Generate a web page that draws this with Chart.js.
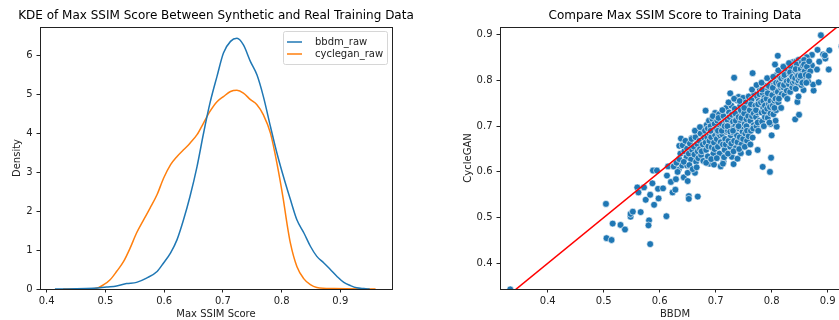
<!DOCTYPE html>
<html>
<head>
<meta charset="utf-8">
<script src="https://cdn.jsdelivr.net/npm/chart.js@4.4.1/dist/chart.umd.min.js"></script>
<style>
  html, body { margin: 0; padding: 0; background: #fff; overflow: hidden; width: 839px; height: 320px; }
  .panel { position: absolute; top: 0; height: 320px; }
</style>
</head>
<body>
<div class="panel" style="left:0;width:420px"><canvas id="kde" width="420" height="320"></canvas></div>
<div class="panel" style="left:420px;width:440px"><canvas id="cmp" width="440" height="320"></canvas></div>
<script>
// KDE curves: [Max SSIM Score, Density]
const bbdmKde = [
  [0.414, 0], [0.434, 0.0], [0.468, 0.01], [0.491, 0.03], [0.502, 0.05], [0.519, 0.08],
  [0.536, 0.14], [0.553, 0.17], [0.570, 0.28], [0.588, 0.45], [0.599, 0.67], [0.611, 0.93],
  [0.622, 1.27], [0.633, 1.78], [0.644, 2.38], [0.656, 3.15], [0.667, 4.0], [0.678, 4.78],
  [0.690, 5.47], [0.701, 6.07], [0.713, 6.37], [0.724, 6.45], [0.735, 6.28], [0.747, 5.85],
  [0.758, 5.51], [0.769, 4.95], [0.781, 4.18], [0.792, 3.5], [0.803, 2.9], [0.815, 2.3],
  [0.826, 1.78], [0.838, 1.44], [0.849, 1.1], [0.860, 0.84], [0.872, 0.67], [0.883, 0.50],
  [0.894, 0.33], [0.906, 0.17], [0.917, 0.09], [0.928, 0.03], [0.940, 0.01], [0.950, 0]
];
const cycleganKde = [
  [0.428, 0], [0.463, 0.005], [0.485, 0.02], [0.497, 0.11], [0.508, 0.24], [0.519, 0.45],
  [0.531, 0.71], [0.542, 1.05], [0.553, 1.44], [0.565, 1.78], [0.576, 2.08], [0.588, 2.43],
  [0.599, 2.85], [0.611, 3.2], [0.622, 3.41], [0.633, 3.58], [0.644, 3.75], [0.656, 3.97],
  [0.667, 4.27], [0.678, 4.57], [0.690, 4.82], [0.701, 4.95], [0.713, 5.08], [0.724, 5.11],
  [0.735, 5.04], [0.747, 4.87], [0.758, 4.74], [0.769, 4.48], [0.781, 4.01], [0.792, 3.24],
  [0.803, 2.3], [0.809, 1.7], [0.815, 1.18], [0.826, 0.58], [0.838, 0.26], [0.849, 0.11],
  [0.860, 0.04], [0.889, 0.01], [0.960, 0]
];

// max SSIM per sample: [BBDM, CycleGAN]
const maxSsimPairs = [
  [0.333, 0.343], [0.504, 0.530], [0.505, 0.455], [0.514, 0.451], [0.516, 0.487], [0.530, 0.484],
  [0.538, 0.474], [0.548, 0.502], [0.548, 0.508], [0.552, 0.513], [0.560, 0.566], [0.562, 0.555],
  [0.566, 0.512], [0.572, 0.566], [0.575, 0.539], [0.581, 0.494], [0.580, 0.483], [0.583, 0.442],
  [0.583, 0.550], [0.587, 0.575], [0.588, 0.603], [0.590, 0.528], [0.595, 0.603], [0.597, 0.563],
  [0.598, 0.542], [0.606, 0.564], [0.612, 0.503], [0.613, 0.592], [0.615, 0.612], [0.620, 0.578],
  [0.623, 0.555], [0.628, 0.561], [0.629, 0.584], [0.626, 0.612], [0.634, 0.605], [0.640, 0.614],
  [0.635, 0.657], [0.638, 0.673], [0.643, 0.588], [0.649, 0.614], [0.650, 0.598], [0.650, 0.580],
  [0.652, 0.547], [0.652, 0.541], [0.668, 0.546], [0.655, 0.640], [0.657, 0.674], [0.663, 0.598],
  [0.666, 0.629], [0.682, 0.734], [0.689, 0.618], [0.697, 0.616], [0.699, 0.729], [0.711, 0.728],
  [0.714, 0.623], [0.719, 0.740], [0.726, 0.772], [0.729, 0.633], [0.733, 0.806], [0.732, 0.617],
  [0.739, 0.629], [0.741, 0.764], [0.745, 0.641], [0.759, 0.642], [0.766, 0.816], [0.775, 0.648],
  [0.784, 0.611], [0.797, 0.600], [0.799, 0.631], [0.798, 0.705], [0.800, 0.680], [0.809, 0.699],
  [0.807, 0.712], [0.811, 0.854], [0.806, 0.835], [0.842, 0.715], [0.849, 0.725], [0.846, 0.753],
  [0.848, 0.765], [0.857, 0.779], [0.875, 0.778], [0.874, 0.791], [0.884, 0.796], [0.888, 0.899],
  [0.872, 0.856], [0.882, 0.867], [0.885, 0.841], [0.881, 0.824], [0.892, 0.857], [0.896, 0.848],
  [0.902, 0.824], [0.903, 0.866], [0.895, 0.855], [0.863, 0.851], [0.872, 0.833], [0.925, 0.875],
  [0.625, 0.612], [0.630, 0.620], [0.635, 0.628], [0.637, 0.640], [0.632, 0.600],
  [0.641, 0.658], [0.644, 0.645], [0.646, 0.668], [0.648, 0.632], [0.643, 0.622], [0.649, 0.651],
  [0.652, 0.640], [0.654, 0.662], [0.656, 0.627], [0.658, 0.648], [0.653, 0.615], [0.657, 0.672], [0.659, 0.606],
  [0.661, 0.655], [0.662, 0.638], [0.664, 0.676], [0.665, 0.622], [0.667, 0.661], [0.668, 0.645], [0.663, 0.690],
  [0.669, 0.630], [0.666, 0.610],
  [0.671, 0.668], [0.672, 0.650], [0.673, 0.684], [0.674, 0.637], [0.676, 0.696], [0.677, 0.660], [0.678, 0.624],
  [0.679, 0.675], [0.675, 0.645], [0.672, 0.698],
  [0.681, 0.690], [0.682, 0.664], [0.683, 0.648], [0.684, 0.703], [0.685, 0.676], [0.686, 0.634], [0.687, 0.656],
  [0.688, 0.712], [0.689, 0.684], [0.683, 0.620], [0.686, 0.695], [0.689, 0.668],
  [0.691, 0.700], [0.692, 0.676], [0.693, 0.654], [0.694, 0.716], [0.695, 0.688], [0.696, 0.640], [0.697, 0.664],
  [0.698, 0.705], [0.699, 0.680], [0.692, 0.628], [0.695, 0.722], [0.698, 0.650], [0.691, 0.690],
  [0.701, 0.694], [0.702, 0.672], [0.703, 0.712], [0.704, 0.655], [0.705, 0.684], [0.706, 0.726], [0.707, 0.640],
  [0.708, 0.700], [0.709, 0.665], [0.702, 0.630], [0.705, 0.718], [0.708, 0.680], [0.704, 0.690], [0.709, 0.612],
  [0.711, 0.705], [0.712, 0.682], [0.713, 0.660], [0.714, 0.722], [0.715, 0.695], [0.716, 0.648], [0.717, 0.672],
  [0.718, 0.712], [0.719, 0.688], [0.712, 0.735], [0.715, 0.632], [0.718, 0.660], [0.711, 0.690], [0.716, 0.700],
  [0.713, 0.618],
  [0.721, 0.714], [0.722, 0.690], [0.723, 0.668], [0.724, 0.730], [0.725, 0.702], [0.726, 0.655], [0.727, 0.680],
  [0.728, 0.745], [0.729, 0.695], [0.722, 0.640], [0.725, 0.720], [0.728, 0.662], [0.721, 0.700], [0.726, 0.688],
  [0.729, 0.725], [0.723, 0.752],
  [0.731, 0.710], [0.732, 0.686], [0.733, 0.668], [0.734, 0.738], [0.735, 0.700], [0.736, 0.652], [0.737, 0.722],
  [0.738, 0.680], [0.739, 0.756], [0.732, 0.645], [0.735, 0.728], [0.738, 0.695], [0.731, 0.690], [0.736, 0.712],
  [0.733, 0.760], [0.739, 0.665],
  [0.741, 0.720], [0.742, 0.695], [0.743, 0.676], [0.744, 0.745], [0.745, 0.708], [0.746, 0.660], [0.747, 0.730],
  [0.748, 0.688], [0.749, 0.762], [0.742, 0.650], [0.745, 0.735], [0.748, 0.700], [0.741, 0.700], [0.746, 0.718],
  [0.743, 0.755], [0.749, 0.672],
  [0.751, 0.728], [0.752, 0.705], [0.753, 0.684], [0.754, 0.752], [0.755, 0.715], [0.756, 0.668], [0.757, 0.740],
  [0.758, 0.696], [0.759, 0.765], [0.752, 0.655], [0.755, 0.700], [0.758, 0.722], [0.751, 0.740], [0.756, 0.690],
  [0.759, 0.678],
  [0.761, 0.735], [0.762, 0.712], [0.763, 0.690], [0.764, 0.758], [0.765, 0.722], [0.766, 0.675], [0.767, 0.745],
  [0.768, 0.702], [0.769, 0.770], [0.762, 0.660], [0.765, 0.780], [0.768, 0.728], [0.763, 0.748], [0.767, 0.695],
  [0.771, 0.745], [0.772, 0.720], [0.773, 0.700], [0.774, 0.765], [0.775, 0.730], [0.776, 0.690], [0.777, 0.755],
  [0.778, 0.712], [0.779, 0.780], [0.772, 0.735], [0.775, 0.708], [0.778, 0.770], [0.773, 0.790], [0.776, 0.748],
  [0.781, 0.752], [0.782, 0.730], [0.783, 0.710], [0.784, 0.772], [0.785, 0.740], [0.786, 0.700], [0.787, 0.762],
  [0.788, 0.720], [0.789, 0.788], [0.782, 0.795], [0.785, 0.755], [0.788, 0.745], [0.783, 0.780], [0.787, 0.732],
  [0.791, 0.760], [0.792, 0.738], [0.793, 0.718], [0.794, 0.780], [0.795, 0.748], [0.796, 0.708], [0.797, 0.770],
  [0.798, 0.728], [0.799, 0.795], [0.792, 0.805], [0.795, 0.788], [0.798, 0.755], [0.793, 0.772], [0.797, 0.742],
  [0.801, 0.768], [0.802, 0.745], [0.803, 0.726], [0.804, 0.790], [0.805, 0.756], [0.806, 0.800], [0.807, 0.778],
  [0.808, 0.735], [0.809, 0.812], [0.802, 0.784], [0.805, 0.740], [0.808, 0.795], [0.803, 0.808], [0.807, 0.760],
  [0.811, 0.775], [0.812, 0.752], [0.813, 0.795], [0.814, 0.810], [0.815, 0.765], [0.816, 0.785], [0.817, 0.740],
  [0.818, 0.820], [0.819, 0.800], [0.812, 0.822], [0.815, 0.790], [0.818, 0.770], [0.813, 0.760], [0.817, 0.805],
  [0.821, 0.785], [0.822, 0.808], [0.823, 0.768], [0.824, 0.828], [0.825, 0.795], [0.826, 0.815], [0.827, 0.778],
  [0.828, 0.832], [0.829, 0.800], [0.822, 0.790], [0.825, 0.820], [0.828, 0.760], [0.823, 0.812], [0.827, 0.798],
  [0.821, 0.830],
  [0.831, 0.792], [0.832, 0.815], [0.833, 0.775], [0.834, 0.835], [0.835, 0.805], [0.836, 0.822], [0.837, 0.785],
  [0.838, 0.840], [0.839, 0.810], [0.832, 0.800], [0.835, 0.828], [0.838, 0.795], [0.833, 0.818], [0.837, 0.808],
  [0.831, 0.838],
  [0.841, 0.798], [0.842, 0.820], [0.843, 0.782], [0.844, 0.842], [0.845, 0.812], [0.846, 0.830], [0.847, 0.795],
  [0.848, 0.845], [0.849, 0.815], [0.842, 0.805], [0.845, 0.835], [0.848, 0.800], [0.843, 0.825], [0.847, 0.810],
  [0.851, 0.805], [0.852, 0.825], [0.853, 0.790], [0.854, 0.840], [0.855, 0.815], [0.856, 0.832], [0.857, 0.800],
  [0.858, 0.845], [0.859, 0.820], [0.852, 0.810], [0.855, 0.795], [0.858, 0.835],
  [0.861, 0.812], [0.863, 0.830], [0.865, 0.798], [0.867, 0.842], [0.869, 0.820], [0.862, 0.795], [0.866, 0.810]
];

// y = x reference line
const identityLine = [[0.3, 0.3], [1.0, 1.0]];

const kdeTicksX = [0.4, 0.5, 0.6, 0.7, 0.8, 0.9];
const densityTicks = [0, 1, 2, 3, 4, 5, 6];
const bbdmTicks = [0.4, 0.5, 0.6, 0.7, 0.8, 0.9];
const cycleganTicks = [0.4, 0.5, 0.6, 0.7, 0.8, 0.9];

const FONT = 'DejaVu Sans';
const INK = '#222';

// title centred over the plot area, like matplotlib
const areaTitle = {
  id: 'areaTitle',
  afterDraw(chart, args, opts) {
    const { ctx, chartArea } = chart;
    ctx.save();
    ctx.font = '12px "' + FONT + '"';
    ctx.fillStyle = '#000';
    ctx.textAlign = 'center';
    ctx.textBaseline = 'middle';
    ctx.fillText(opts.text, (chartArea.left + chartArea.right) / 2, 15.5);
    ctx.restore();
  }
};

// four spines
const frame = {
  id: 'frame',
  afterDraw(chart) {
    const { ctx, chartArea: a } = chart;
    ctx.save();
    ctx.strokeStyle = INK;
    ctx.lineWidth = 1;
    ctx.strokeRect(Math.round(a.left) + 0.5, Math.round(a.top) + 0.5,
      Math.round(a.right - a.left), Math.round(a.bottom - a.top));
    ctx.restore();
  }
};

// matplotlib style framed legend, upper right
const boxLegend = {
  id: 'boxLegend',
  afterDraw(chart) {
    const { ctx, chartArea: a } = chart;
    const w = 104, h = 33;
    const x = a.right - 5 - w, y = a.top + 4;
    ctx.save();
    ctx.fillStyle = 'rgba(255,255,255,0.8)';
    ctx.strokeStyle = '#d6d6d6';
    ctx.lineWidth = 1;
    ctx.beginPath();
    ctx.roundRect(x + 0.5, y + 0.5, w, h, 2);
    ctx.fill();
    ctx.stroke();
    ctx.font = '10px "' + FONT + '"';
    ctx.textBaseline = 'middle';
    chart.data.datasets.forEach((ds, i) => {
      const ly = y + 11 + i * 12;
      ctx.strokeStyle = ds.borderColor;
      ctx.lineWidth = 1.5;
      ctx.beginPath();
      ctx.moveTo(x + 4, ly);
      ctx.lineTo(x + 19, ly);
      ctx.stroke();
      ctx.fillStyle = INK;
      ctx.fillText(ds.label, x + 32, ly);
    });
    ctx.restore();
  }
};

function axis(min, max, ticks, title, horizontal, titlePad, fmt) {
  return {
    type: 'linear',
    min: min,
    max: max,
    afterBuildTicks: s => { s.ticks = ticks.map(v => ({ value: v })); },
    afterFit: s => { if (horizontal) s.height = 31; else s.width = 40; },
    grid: { display: true, drawOnChartArea: false, drawTicks: true, tickLength: 3.5, tickColor: INK, tickWidth: 1 },
    border: { display: false },
    ticks: { color: INK, font: { family: FONT, size: 10 }, padding: horizontal ? 2.5 : 4, callback: fmt, maxRotation: 0 },
    title: { display: true, text: title, color: INK, font: { family: FONT, size: 10 }, padding: titlePad }
  };
}

Chart.defaults.font.family = FONT;
Chart.defaults.animation = false;

new Chart(document.getElementById('kde'), {
  type: 'line',
  data: {
    datasets: [
      { label: 'bbdm_raw', data: bbdmKde, borderColor: '#1f77b4', borderWidth: 1.5, pointRadius: 0, cubicInterpolationMode: 'monotone', fill: false },
      { label: 'cyclegan_raw', data: cycleganKde, borderColor: '#ff7f0e', borderWidth: 1.5, pointRadius: 0, cubicInterpolationMode: 'monotone', fill: false }
    ]
  },
  options: {
    responsive: false,
    layout: { padding: { left: 0, right: 28, top: 27, bottom: 0 } },
    plugins: { legend: { display: false }, tooltip: { enabled: false }, areaTitle: { text: 'KDE of Max SSIM Score Between Synthetic and Real Training Data' } },
    scales: {
      x: axis(0.3886, 0.988, kdeTicksX, 'Max SSIM Score', true, { top: 0, bottom: 0 }, v => v.toFixed(1)),
      y: axis(0, 6.74, densityTicks, 'Density', false, { top: 11, bottom: 0 }, v => String(v))
    }
  },
  plugins: [areaTitle, frame, boxLegend]
});

new Chart(document.getElementById('cmp'), {
  type: 'scatter',
  data: {
    datasets: [
      { type: 'line', data: identityLine, borderColor: '#ff0000', borderWidth: 1.5, pointRadius: 0, showLine: true, clip: 0 },
      { data: maxSsimPairs, backgroundColor: '#1f77b4', borderColor: '#ffffff', borderWidth: 0.6, pointRadius: 3.4, clip: 0 }
    ]
  },
  options: {
    responsive: false,
    layout: { padding: { left: 40, right: 10, top: 27, bottom: 0 } },
    plugins: { legend: { display: false }, tooltip: { enabled: false }, areaTitle: { text: 'Compare Max SSIM Score to Training Data' } },
    scales: {
      x: axis(0.3147, 0.94, bbdmTicks, 'BBDM', true, { top: 0, bottom: 0 }, v => v.toFixed(1)),
      y: axis(0.3438, 0.917, cycleganTicks, 'CycleGAN', false, { top: 2, bottom: 0 }, v => v.toFixed(1))
    }
  },
  plugins: [areaTitle, frame]
});
</script>
</body>
</html>
